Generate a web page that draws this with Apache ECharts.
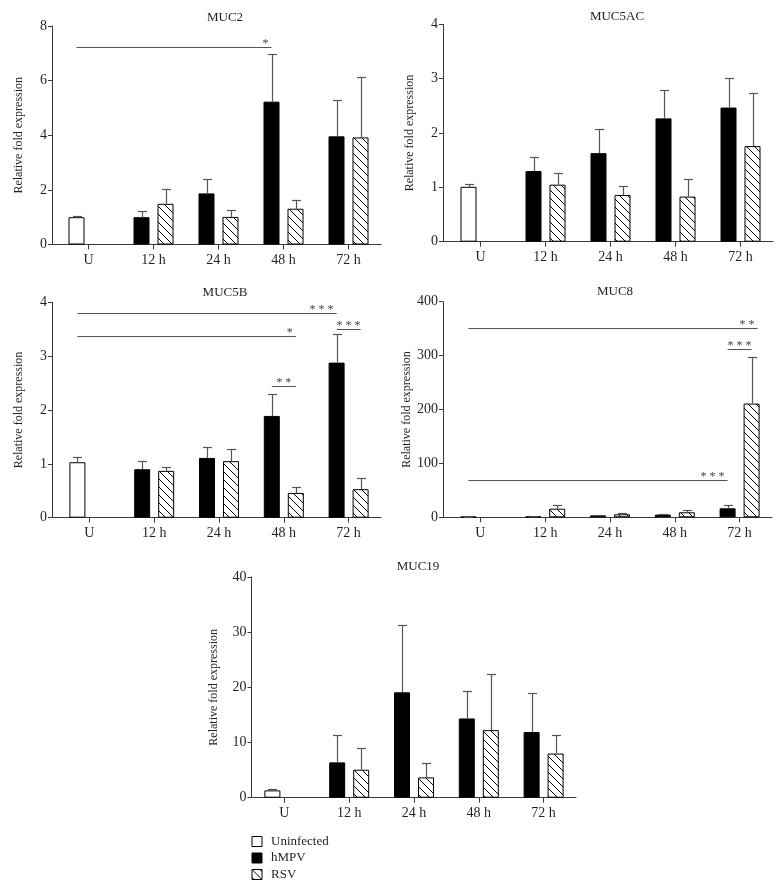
<!DOCTYPE html>
<html><head><meta charset="utf-8">
<script src="https://cdn.jsdelivr.net/npm/echarts@6/dist/echarts.min.js"></script>
<style>html,body{margin:0;padding:0;background:#fff}#c{width:784px;height:888px}</style>
</head><body><div id="c"></div>
<script>
// ---------- DATA ----------
const categories = ['U', '12 h', '24 h', '48 h', '72 h'];
const seriesNames = ['Uninfected', 'hMPV', 'RSV'];
const yAxisTitle = 'Relative fold expression';

// MUC2
const muc2Uninfected    = [1.00, '-', '-', '-', '-'];
const muc2UninfectedTop = [1.06, '-', '-', '-', '-'];
const muc2Hmpv          = ['-', 1.00, 1.87, 5.23, 3.96];
const muc2HmpvTop       = ['-', 1.23, 2.41, 6.96, 5.29];
const muc2Rsv           = ['-', 1.49, 1.01, 1.31, 3.92];
const muc2RsvTop        = ['-', 2.04, 1.26, 1.62, 6.12];
const muc2Signif = [[0, -1, 3, -1, 7.23, '*', 'end']];

// MUC5AC
const muc5acUninfected    = [1.01, '-', '-', '-', '-'];
const muc5acUninfectedTop = [1.07, '-', '-', '-', '-'];
const muc5acHmpv          = ['-', 1.30, 1.63, 2.27, 2.47];
const muc5acHmpvTop       = ['-', 1.55, 2.07, 2.80, 3.02];
const muc5acRsv           = ['-', 1.05, 0.86, 0.83, 1.76];
const muc5acRsvTop        = ['-', 1.26, 1.03, 1.16, 2.74];
const muc5acSignif = [];

// MUC5B
const muc5bUninfected    = [1.03, '-', '-', '-', '-'];
const muc5bUninfectedTop = [1.12, '-', '-', '-', '-'];
const muc5bHmpv          = ['-', 0.90, 1.11, 1.89, 2.88];
const muc5bHmpvTop       = ['-', 1.05, 1.31, 2.29, 3.42];
const muc5bRsv           = ['-', 0.87, 1.05, 0.46, 0.53];
const muc5bRsvTop        = ['-', 0.95, 1.28, 0.57, 0.74];
const muc5bSignif = [
  [0, -1, 4, -1, 3.80, '* * *', 'end'],
  [0, -1, 3, 1, 3.37, '*', 'end'],
  [3, -1, 3, 1, 2.45, '* *', 'center'],
  [4, -1, 4, 1, 3.50, '* * *', 'center']
];

// MUC8
const muc8Uninfected    = [1.0, '-', '-', '-', '-'];
const muc8UninfectedTop = [1.2, '-', '-', '-', '-'];
const muc8Hmpv          = ['-', 1.8, 3.5, 5.0, 16.7];
const muc8HmpvTop       = ['-', 2.5, 4.5, 6.5, 22];
const muc8Rsv           = ['-', 16, 5.6, 9.3, 211];
const muc8RsvTop        = ['-', 22, 7.4, 13.6, 297];
const muc8Signif = [
  [0, -1, 4, 1.5, 352, '* *', 'end'],
  [4, -1, 4, 1, 313, '* * *', 'center'],
  [0, -1, 4, -1, 69, '* * *', 'end']
];

// MUC19
const muc19Uninfected    = [1.33, '-', '-', '-', '-'];
const muc19UninfectedTop = [1.5, '-', '-', '-', '-'];
const muc19Hmpv          = ['-', 6.4, 19.1, 14.36, 11.9];
const muc19HmpvTop       = ['-', 11.3, 31.25, 19.25, 18.9];
const muc19Rsv           = ['-', 5.07, 3.68, 12.25, 8.0];
const muc19RsvTop        = ['-', 9.0, 6.2, 22.4, 11.34];
const muc19Signif = [];

// y-axis ranges
const yMax      = [8, 4, 4, 400, 40];
const yInterval = [2, 1, 1, 100, 10];

// ---------- STYLE / LAYOUT ----------
const FONT = "'Liberation Serif', 'DejaVu Serif', serif";
const TEXT = '#231f20';
const AXIS = '#3a3a3a';
const ERR = '#555555';
const SIG = '#555555';
const BAR_W = 16;
const BAR_GAP_PX = 8;
const OFFSET = (BAR_W + BAR_GAP_PX) / 2;
const CAP = 4.5;

const panels = [
  { title: 'MUC2',   d: [muc2Uninfected, muc2UninfectedTop, muc2Hmpv, muc2HmpvTop, muc2Rsv, muc2RsvTop], sig: muc2Signif,
    axisX: 52, catLeft: 56, catRight: 381, top: 26, bottom: 244.5, titleX: 220, titleY: 6, nameGap: 27 },
  { title: 'MUC5AC', d: [muc5acUninfected, muc5acUninfectedTop, muc5acHmpv, muc5acHmpvTop, muc5acRsv, muc5acRsvTop], sig: muc5acSignif,
    axisX: 443, catLeft: 448, catRight: 773, top: 24.4, bottom: 241.7, titleX: 612, titleY: 5, nameGap: 27 },
  { title: 'MUC5B',  d: [muc5bUninfected, muc5bUninfectedTop, muc5bHmpv, muc5bHmpvTop, muc5bRsv, muc5bRsvTop], sig: muc5bSignif,
    axisX: 52, catLeft: 57, catRight: 381, top: 302.3, bottom: 517.7, titleX: 220, titleY: 281, nameGap: 27 },
  { title: 'MUC8',   d: [muc8Uninfected, muc8UninfectedTop, muc8Hmpv, muc8HmpvTop, muc8Rsv, muc8RsvTop], sig: muc8Signif,
    axisX: 443, catLeft: 448, catRight: 772, top: 301.7, bottom: 517.3, titleX: 610, titleY: 280, nameGap: 30 },
  { title: 'MUC19',  d: [muc19Uninfected, muc19UninfectedTop, muc19Hmpv, muc19HmpvTop, muc19Rsv, muc19RsvTop], sig: muc19Signif,
    axisX: 251.5, catLeft: 252, catRight: 576, top: 577, bottom: 797.7, titleX: 413, titleY: 555, nameGap: 32 }
];
const legendTops = [833.5, 850, 866.5];

// hatch pattern
function makeHatch() {
  const s = 8;
  const c = document.createElement('canvas');
  c.width = s; c.height = s;
  const g = c.getContext('2d');
  g.fillStyle = '#fff'; g.fillRect(0, 0, s, s);
  g.strokeStyle = '#000'; g.lineWidth = 1;
  g.beginPath();
  g.moveTo(-1, -1); g.lineTo(s + 1, s + 1);
  g.moveTo(-1, s - 1); g.lineTo(1, s + 1);
  g.moveTo(s - 1, -1); g.lineTo(s + 1, 1);
  g.stroke();
  return c;
}
const hatch = { image: makeHatch(), repeat: 'repeat' };

const grids = [], xAxes = [], yAxes = [], series = [], titles = [];

panels.forEach((p, i) => {
  const h = p.bottom - p.top;
  const fg = 2 * i, dg = 2 * i + 1;
  grids.push({ left: p.axisX, top: p.top, width: p.catRight - p.axisX, height: h });
  grids.push({ left: p.catLeft, top: p.top, width: p.catRight - p.catLeft, height: h });

  xAxes.push({ gridIndex: fg, type: 'value', min: 0, max: 1,
    axisLine: { show: true, onZero: false, lineStyle: { color: AXIS, width: 1 } },
    axisTick: { show: false }, axisLabel: { show: false }, splitLine: { show: false } });
  xAxes.push({ gridIndex: dg, type: 'category', data: categories,
    axisLine: { show: false },
    axisTick: { show: true, alignWithLabel: true, length: 5, lineStyle: { color: AXIS } },
    axisLabel: { fontFamily: FONT, fontSize: 14, color: TEXT, margin: 9 },
    splitLine: { show: false } });

  yAxes.push({ gridIndex: fg, type: 'value', min: 0, max: yMax[i], interval: yInterval[i],
    axisLine: { show: true, onZero: false, lineStyle: { color: AXIS, width: 1 } },
    axisTick: { show: true, length: 4, lineStyle: { color: AXIS } },
    axisLabel: { fontFamily: FONT, fontSize: 14, color: TEXT, margin: 5 },
    splitLine: { show: false },
    name: yAxisTitle, nameLocation: 'middle', nameRotate: 90, nameGap: p.nameGap,
    nameTextStyle: { fontFamily: FONT, fontSize: 12, color: TEXT } });
  yAxes.push({ gridIndex: dg, type: 'value', min: 0, max: yMax[i], show: false });

  titles.push({ text: p.title, left: p.titleX, top: p.titleY, textAlign: 'center',
    textStyle: { fontFamily: FONT, fontSize: 13, fontWeight: 'normal', color: TEXT } });

  const [u, uT, hm, hmT, rs, rsT] = p.d;
  const common = { type: 'bar', xAxisIndex: dg, yAxisIndex: dg, barWidth: BAR_W,
    barGap: (BAR_GAP_PX / BAR_W * 100) + '%', animation: false };
  series.push(Object.assign({}, common, { name: seriesNames[0], stack: 'st' + i, data: u,
    itemStyle: { color: '#ffffff', borderColor: '#000', borderWidth: 1 } }));
  series.push(Object.assign({}, common, { name: seriesNames[1], stack: 'st' + i, data: hm,
    itemStyle: { color: '#000000', borderColor: '#000', borderWidth: 1 } }));
  series.push(Object.assign({}, common, { name: seriesNames[2], data: rs,
    itemStyle: { color: hatch, borderColor: '#000', borderWidth: 1 } }));

  // error bars
  const errData = [];
  [[u, uT, -1], [hm, hmT, -1], [rs, rsT, 1]].forEach(([m, t, slot]) => {
    m.forEach((v, k) => { if (v !== '-') errData.push([k, slot, v, t[k]]); });
  });
  series.push({ type: 'custom', xAxisIndex: dg, yAxisIndex: dg, z: 3, animation: false, silent: true,
    encode: { x: 0, y: 3 },
    data: errData,
    renderItem: (params, api) => {
      const cat = api.value(0), slot = api.value(1);
      const a = api.coord([cat, api.value(2)]);
      const b = api.coord([cat, api.value(3)]);
      const x = Math.round(a[0] + slot * OFFSET) + 0.5;
      const yt = Math.round(b[1]) + 0.5;
      return { type: 'group', children: [
        { type: 'line', shape: { x1: x, y1: a[1], x2: x, y2: yt }, style: { stroke: ERR, lineWidth: 1.2 } },
        { type: 'line', shape: { x1: x - CAP, y1: yt, x2: x + CAP, y2: yt }, style: { stroke: ERR, lineWidth: 1.2 } }
      ] };
    } });

  // significance lines
  if (p.sig.length) {
    const sig = p.sig;
    series.push({ type: 'custom', xAxisIndex: dg, yAxisIndex: dg, z: 4, animation: false, silent: true,
      encode: { x: 0, y: 4 },
      data: sig.map(r => [r[0], r[1], r[2], r[3], r[4]]),
      renderItem: (params, api) => {
        const r = sig[params.dataIndex];
        const a = api.coord([api.value(0), api.value(4)]);
        const b = api.coord([api.value(2), api.value(4)]);
        const x1 = a[0] + api.value(1) * OFFSET;
        const x2 = b[0] + api.value(3) * OFFSET;
        const y = Math.round(a[1]) + 0.5;
        const tx = r[6] === 'end' ? x2 - 3 : (x1 + x2) / 2;
        return { type: 'group', children: [
          { type: 'line', shape: { x1: x1, y1: y, x2: x2, y2: y }, style: { stroke: SIG, lineWidth: 1 } },
          { type: 'text', x: tx, y: y - 4, style: { text: r[5], fontFamily: FONT, fontSize: 12, fill: '#444',
            align: r[6] === 'end' ? 'right' : 'center', verticalAlign: 'middle' } }
        ] };
      } });
  }
});

const legends = seriesNames.map((n, k) => ({
  data: [n], orient: 'vertical', left: 251.5, top: legendTops[k], padding: 0,
  itemWidth: 10, itemHeight: 10, icon: 'rect', selectedMode: false,
  itemStyle: { borderWidth: 1, borderColor: '#000' },
  textStyle: { fontFamily: FONT, fontSize: 13, color: TEXT, padding: [0, 0, 0, 4], lineHeight: 16 }
}));

const chart = echarts.init(document.getElementById('c'), null, { renderer: 'canvas' });
chart.setOption({
  animation: false,
  backgroundColor: '#ffffff',
  title: titles,
  grid: grids,
  xAxis: xAxes,
  yAxis: yAxes,
  legend: legends,
  series: series
});
</script>
</body></html>
